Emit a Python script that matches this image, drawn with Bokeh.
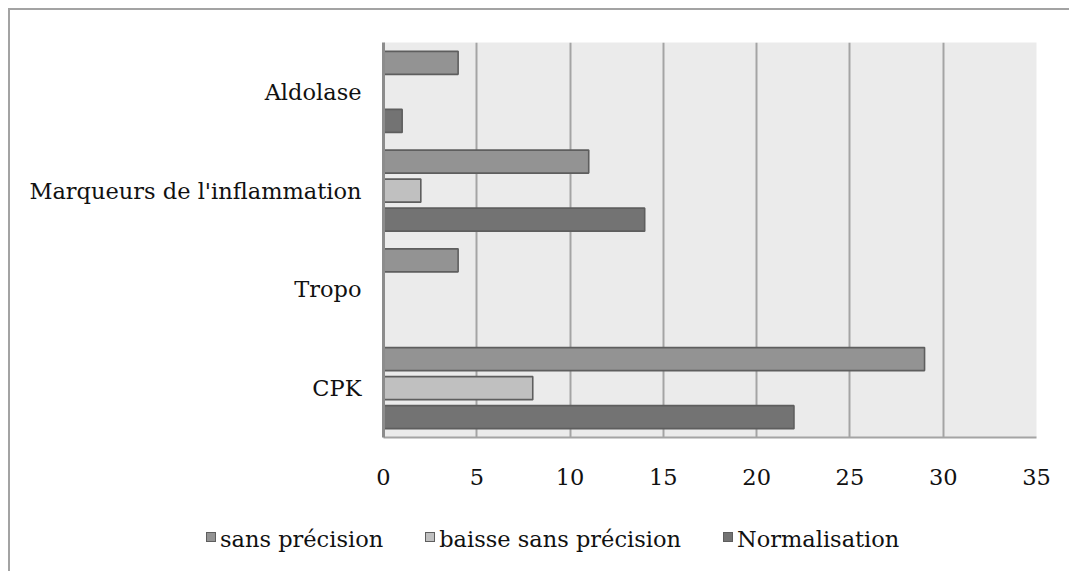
from bokeh.plotting import figure
from bokeh.layouts import column
from bokeh.models import Range1d, FactorRange, ColumnDataSource, FixedTicker, Div
from bokeh.transform import dodge
from bokeh.embed import file_html
from bokeh.resources import INLINE

categories = ["CPK", "Tropo", "Marqueurs de l'inflammation", "Aldolase"]
sans_precision = [29, 4, 11, 4]
baisse_sans_precision = [8, None, 2, None]
normalisation = [22, None, 14, 1]
series_names = ["sans précision", "baisse sans précision", "Normalisation"]
x_ticks = [0, 5, 10, 15, 20, 25, 30, 35]

FONT = "DejaVu Serif"
FS = "22.5px"
fills = ["#939393", "#c0c0c0", "#737373"]
offsets = [0.294, 0.0, -0.294]
bar_line = "#5e5e5e"

p = figure(
    y_range=FactorRange(factors=categories, range_padding=0),
    x_range=Range1d(0, 35),
    width=1056, height=497,
    min_border_left=373, min_border_right=30, min_border_top=32, min_border_bottom=70,
    output_backend="svg", toolbar_location=None,
    background_fill_color="#ebebeb", border_fill_color="white",
)
p.outline_line_color = None

src = ColumnDataSource(dict(cat=categories, s0=sans_precision,
                            s1=[float("nan") if v is None else v for v in baisse_sans_precision],
                            s2=[float("nan") if v is None else v for v in normalisation]))

for i, col in enumerate(["s0", "s1", "s2"]):
    p.hbar(y=dodge("cat", offsets[i], range=p.y_range), left=0, right=col, height=0.233,
           source=src, fill_color=fills[i], line_color=bar_line, line_width=1.6)

# grid
p.ygrid.grid_line_color = None
p.xgrid.grid_line_color = "#a4a4a4"
p.xgrid.grid_line_width = 2
p.xaxis.ticker = FixedTicker(ticks=x_ticks)

# axes
p.xaxis.axis_line_color = "#a4a4a4"
p.xaxis.axis_line_width = 2
p.xaxis.major_tick_line_color = None
p.xaxis.minor_tick_line_color = None
p.xaxis.major_tick_out = 0
p.xaxis.major_tick_in = 0
p.xaxis.major_label_standoff = 31
p.xaxis.major_label_text_font = FONT
p.xaxis.major_label_text_font_size = FS
p.xaxis.major_label_text_color = "#111111"

p.yaxis.axis_line_color = "#8c8c8c"
p.yaxis.axis_line_width = 3
p.yaxis.major_tick_line_color = None
p.yaxis.major_tick_out = 0
p.yaxis.major_tick_in = 0
p.yaxis.major_label_standoff = 22
p.yaxis.major_label_text_font = FONT
p.yaxis.major_label_text_font_size = FS
p.yaxis.major_label_text_color = "#111111"

# legend strip below the chart
items_html = ""
for i, name in enumerate(series_names):
    gap = "42px" if i < len(series_names) - 1 else "0"
    items_html += (
        f'<span style="display:inline-block;width:10px;height:10px;background:{fills[i]};'
        f'border:1.5px solid {bar_line};margin-right:4px;position:relative;top:-2px"></span>'
        f'<span style="margin-right:{gap}">{name}</span>'
    )
legend_div = Div(
    text=(f'<div style="position:absolute;left:191px;top:14px;white-space:nowrap;'
          f'font-family:\'{FONT}\';font-size:{FS};color:#111111;display:flex;align-items:center;'
          f'line-height:26px">{items_html}</div>'),
    width=1056, height=54,
)

layout = column(p, legend_div, spacing=0)
layout.styles = {"border-left": "2px solid #a3a3a3", "border-top": "2px solid #a3a3a3",
                 "margin-left": "8px", "margin-top": "8px"}

open("out.html", "w").write(file_html(layout, INLINE))
